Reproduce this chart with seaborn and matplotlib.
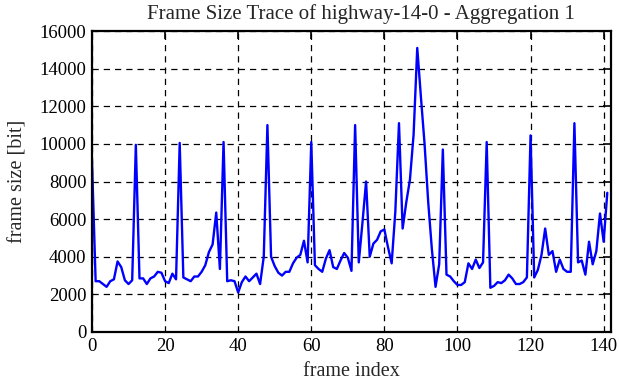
import pandas as pd
import matplotlib
matplotlib.use("Agg")
import matplotlib.pyplot as plt
import seaborn as sns

# frame sizes (one value per frame)
frame_sizes = [
    9100, 2700, 2700, 2550, 2400, 2700, 2800, 3750, 3450, 2750, 2550, 2750,
    9950, 2850, 2850, 2550, 2850, 2950, 3200, 3150, 2700, 2600, 3100, 2800,
    10050, 2900, 2800, 2700, 2950, 2950, 3200, 3550, 4250, 4650, 6350, 3350,
    10100, 2700, 2750, 2700, 2100, 2650, 2950, 2700, 2900, 3100, 2550, 4000,
    11000, 4000, 3500, 3150, 3000, 3200, 3200, 3650, 3950, 4100, 4850, 3700,
    10100, 3550, 3350, 3200, 3900, 4350, 3450, 3350, 3800, 4200, 3950, 3250,
    11000, 3700, 5800, 8000, 4000, 4700, 4900, 5350, 5450, 4500, 3650, 6400,
    11100, 5500, 6900, 8100, 10500, 15100, 12500, 10000, 6900, 4400, 2400, 3600,
    9700, 3050, 2950, 2700, 2500, 2500, 2650, 3650, 3350, 3850, 3400, 3700,
    10100, 2350, 2450, 2650, 2600, 2750, 3050, 2850, 2550, 2550, 2650, 2900,
    10450, 2900, 3300, 4100, 5500, 4100, 4300, 3200, 3850, 3350, 3200, 3200,
    11100, 3700, 3800, 3050, 4800, 3600, 4300, 6300, 4800, 7400,
]
frame_index = list(range(len(frame_sizes)))

x_ticks = [0, 20, 40, 60, 80, 100, 120, 140]
y_ticks = [0, 2000, 4000, 6000, 8000, 10000, 12000, 14000, 16000]

df = pd.DataFrame({"frame index": frame_index, "frame size [bit]": frame_sizes})

sns.set_theme(style="white")
plt.rcParams["font.family"] = ["Liberation Serif", "DejaVu Serif"]

fig = plt.figure(figsize=(6.19, 3.82), dpi=100)
ax = fig.add_axes([0.1486, 0.1309, 0.8384, 0.7879])

sns.lineplot(data=df, x="frame index", y="frame size [bit]", color="#0000ff",
             linewidth=1.7, ax=ax, legend=False)

ax.set_xlim(0, 142)
ax.set_ylim(0, 16000)
ax.set_xticks(x_ticks)
ax.set_yticks(y_ticks)

ax.grid(True, color="black", linestyle=(0, (5, 4)), linewidth=0.9)
ax.tick_params(direction="in", length=6, width=1.2, top=True, right=True,
               labelsize=13.5, colors="black", pad=4)
for s in ax.spines.values():
    s.set_color("black")
    s.set_linewidth(1.6)

ax.set_title("Frame Size Trace of highway-14-0 - Aggregation 1", fontsize=15,
             pad=9, x=0.519)
ax.set_xlabel("frame index", fontsize=14.5, labelpad=5.5)
ax.set_ylabel("frame size [bit]", fontsize=14.5, labelpad=9)

fig.savefig("out.png", dpi=100)
